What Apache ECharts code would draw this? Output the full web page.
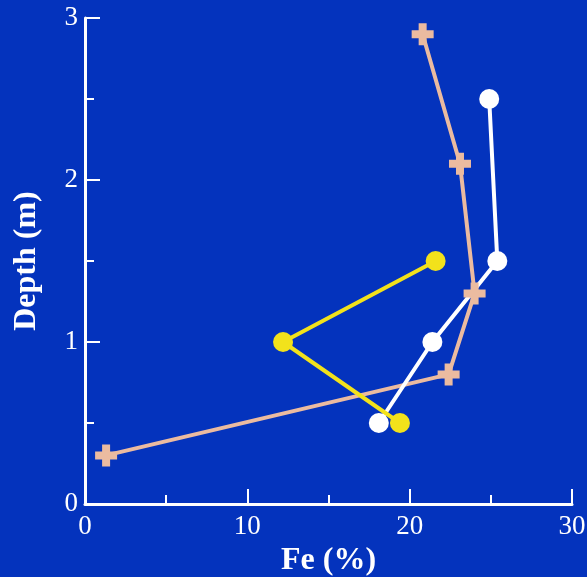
<!DOCTYPE html>
<html>
<head>
<meta charset="utf-8">
<script src="https://cdn.jsdelivr.net/npm/echarts@6/dist/echarts.min.js"></script>
<style>
html,body{margin:0;padding:0;background:#0433BD;}
#main{width:587px;height:577px;}
</style>
</head>
<body>
<div id="main"></div>
<script>
// Fe content against depth, three profiles
const pinkFe = [1.3, 22.4, 24.0, 23.1, 20.8];
const pinkDepth = [0.3, 0.8, 1.3, 2.1, 2.9];
const whiteFe = [18.1, 21.4, 25.4, 24.9];
const whiteDepth = [0.5, 1.0, 1.5, 2.5];
const yellowFe = [21.6, 12.2, 19.4];
const yellowDepth = [1.5, 1.0, 0.5];
const xTicks = [0, 10, 20, 30];
const yTicks = [0, 1, 2, 3];

const font = '"Liberation Serif", "DejaVu Serif", serif';
const plus = 'path://M7,0 L15,0 L15,7 L22,7 L22,15 L15,15 L15,22 L7,22 L7,15 L0,15 L0,7 L7,7 Z';

function pairs(xs, ys){
    return xs.map(function(v, i){ return [v, ys[i]]; });
}

function axisBase(ticks){
    return {
        type: 'value',
        min: ticks[0],
        max: ticks[ticks.length - 1],
        interval: ticks[1] - ticks[0],
        axisLine: {show: true, lineStyle: {color: '#fff', width: 3}},
        axisTick: {show: true, inside: true, length: 15, lineStyle: {color: '#fff', width: 2}},
        minorTick: {show: true, splitNumber: 2, length: 9, lineStyle: {color: '#fff', width: 2}},
        splitLine: {show: false},
        axisLabel: {color: '#fff', fontFamily: font, fontSize: 27},
        nameTextStyle: {color: '#fff', fontFamily: font, fontSize: 32, fontWeight: 'bold'}
    };
}

const e = echarts.init(document.getElementById('main'));
const xAxis = axisBase(xTicks);
xAxis.name = 'Fe (%)';
xAxis.nameLocation = 'middle';
xAxis.nameGap = 38;
xAxis.axisLabel.margin = 9;
const yAxis = axisBase(yTicks);
yAxis.name = 'Depth (m)';
yAxis.nameLocation = 'middle';
yAxis.nameGap = 42;
yAxis.axisLabel.margin = 7;

const option = {
    backgroundColor: '#0433BD',
    animation: false,
    grid: {left: 85, right: 15, top: 18, bottom: 73, outerBoundsMode: 'none', containLabel: false},
    xAxis: xAxis,
    yAxis: yAxis,
    series: [
        {
            type: 'line',
            data: pairs(pinkFe, pinkDepth),
            symbol: plus,
            symbolSize: 22,
            lineStyle: {color: '#EBBBA0', width: 4},
            itemStyle: {color: '#EBBBA0'}
        },
        {
            type: 'line',
            data: pairs(whiteFe, whiteDepth),
            symbol: 'circle',
            symbolSize: 20,
            lineStyle: {color: '#ffffff', width: 4},
            itemStyle: {color: '#ffffff'}
        },
        {
            type: 'line',
            data: pairs(yellowFe, yellowDepth),
            symbol: 'circle',
            symbolSize: 20,
            lineStyle: {color: '#F2E21B', width: 4},
            itemStyle: {color: '#F2E21B'}
        }
    ]
};
e.setOption(option);
</script>
</body>
</html>
